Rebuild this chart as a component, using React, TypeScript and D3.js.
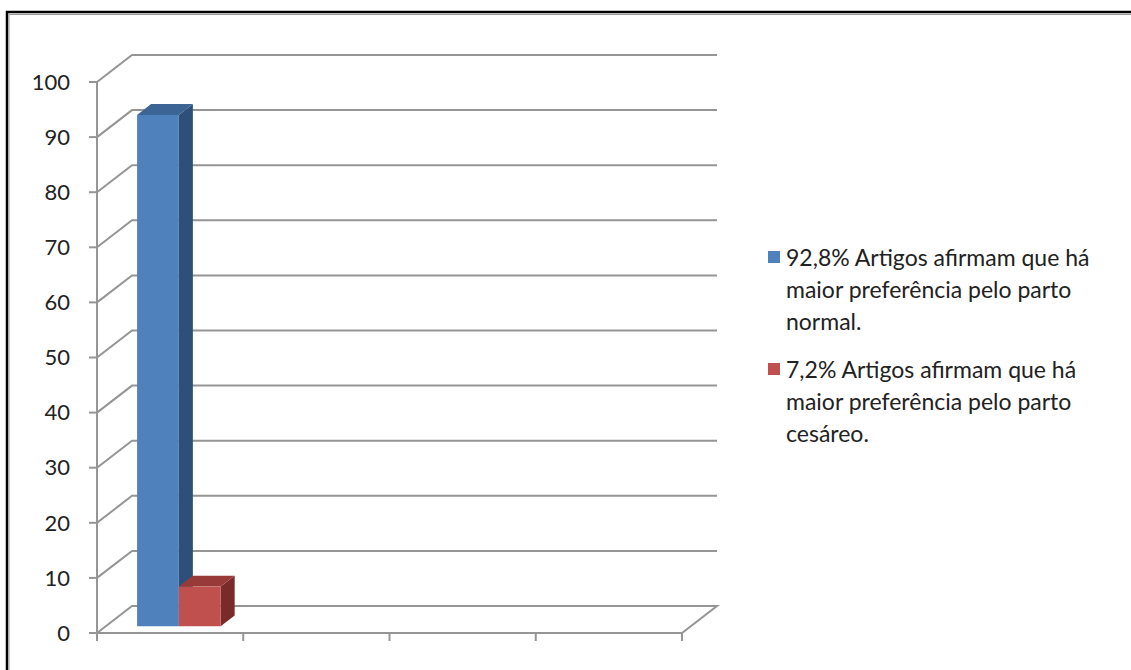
import React, { useEffect, useRef } from "react";
import * as d3 from "d3";

const categories = ["", "", "", ""];
const seriesNames = ["normal", "cesareo"];
const seriesValues: (number | null)[][] = [
  [92.8, null, null, null],
  [7.2, null, null, null],
];
const yTicks = [0, 10, 20, 30, 40, 50, 60, 70, 80, 90, 100];
const legendLines = [
  ["92,8% Artigos afirmam que há", "maior preferência pelo parto", "normal."],
  ["7,2% Artigos afirmam que há", "maior preferência pelo parto", "cesáreo."],
];
const colors = [
  { front: "#4F81BD", top: "#3C6596", side: "#2E5078" },
  { front: "#C0504D", top: "#983A38", side: "#7A2B29" },
];

const W = 1131;
const H = 670;
const FONT = "Lato, 'Open Sans', sans-serif";

export default function App() {
  const ref = useRef<SVGSVGElement>(null);

  useEffect(() => {
    document.body.style.margin = "0";
    const svg = d3.select(ref.current);
    svg.selectAll("*").remove();

    // frame
    svg.append("rect").attr("x", 7).attr("y", 12).attr("width", W).attr("height", H)
      .attr("fill", "#fff").attr("stroke", "#000").attr("stroke-width", 2.5);
    svg.append("path").attr("d", `M9,${H} V14.5 H${W}`).attr("fill", "none")
      .attr("stroke", "#999").attr("stroke-width", 1);

    const x0 = 97, x1 = 682;
    const depth = { dx: 35, dy: -27 };
    const y = d3.scaleLinear().domain([0, 100]).range([633, 82]);
    const xCat = d3.scaleBand<number>().domain(d3.range(categories.length)).range([x0, x1]);
    const xSer = d3.scaleBand<number>().domain(d3.range(seriesNames.length))
      .range([0, xCat.bandwidth()]).paddingOuter(0.75).paddingInner(0);

    const grid = svg.append("g").attr("fill", "none").attr("stroke", "#959595").attr("stroke-width", 2);
    yTicks.forEach((t) => {
      const yy = y(t);
      if (t === 0) {
        grid.append("path").attr("d",
          `M${x0},${yy} L${x0 + depth.dx},${yy + depth.dy} H${x1 + depth.dx} L${x1},${yy} H${x0}`);
      } else {
        grid.append("path").attr("d",
          `M${x0},${yy} L${x0 + depth.dx},${yy + depth.dy} H${x1 + depth.dx}`);
      }
      grid.append("line").attr("x1", x0 - 8).attr("x2", x0).attr("y1", yy).attr("y2", yy);
    });
    grid.append("line").attr("x1", x0).attr("x2", x0).attr("y1", y(100)).attr("y2", y(0) + 8);
    d3.range(categories.length + 1).forEach((i) => {
      const xx = x0 + i * xCat.bandwidth();
      grid.append("line").attr("x1", xx).attr("x2", xx).attr("y1", y(0)).attr("y2", y(0) + 8);
    });

    // tick labels
    svg.append("g").selectAll("text").data(yTicks).join("text")
      .attr("x", 70).attr("y", (d) => y(d)).attr("dy", "0.35em")
      .attr("text-anchor", "end").attr("font-family", FONT).attr("font-size", 22)
      .attr("fill", "#222").text((d) => String(d));

    // bars
    const fFront = 0.25, fBack = 0.65;
    const bars = svg.append("g");
    seriesValues.forEach((vals, s) => {
      vals.forEach((v, c) => {
        if (v == null) return;
        const bx = (xCat(c) as number) + (xSer(s) as number) + fFront * depth.dx;
        const bw = xSer.bandwidth();
        const by0 = y(0) + fFront * depth.dy;
        const by1 = y(v) + fFront * depth.dy;
        const ddx = (fBack - fFront) * depth.dx;
        const ddy = (fBack - fFront) * depth.dy;
        bars.append("path").attr("fill", colors[s].side)
          .attr("d", `M${bx + bw},${by1} L${bx + bw + ddx},${by1 + ddy} V${by0 + ddy} L${bx + bw},${by0} Z`);
        bars.append("path").attr("fill", colors[s].top)
          .attr("d", `M${bx},${by1} L${bx + ddx},${by1 + ddy} H${bx + bw + ddx} L${bx + bw},${by1} Z`);
        bars.append("rect").attr("fill", colors[s].front)
          .attr("x", bx).attr("y", by1).attr("width", bw).attr("height", by0 - by1);
      });
    });

    // legend
    const leg = svg.append("g");
    const blockY = [266, 378];
    legendLines.forEach((lines, s) => {
      leg.append("rect").attr("x", 768).attr("y", blockY[s] - 15).attr("width", 12).attr("height", 12)
        .attr("fill", colors[s].front);
      lines.forEach((ln, i) => {
        leg.append("text").attr("x", 786).attr("y", blockY[s] + i * 32)
          .attr("font-family", FONT).attr("font-size", 23).attr("fill", "#222").text(ln);
      });
    });
  }, []);

  return (
    <svg ref={ref} width={W} height={H} style={{ display: "block", position: "absolute", left: 0, top: 0 }} />
  );
}
